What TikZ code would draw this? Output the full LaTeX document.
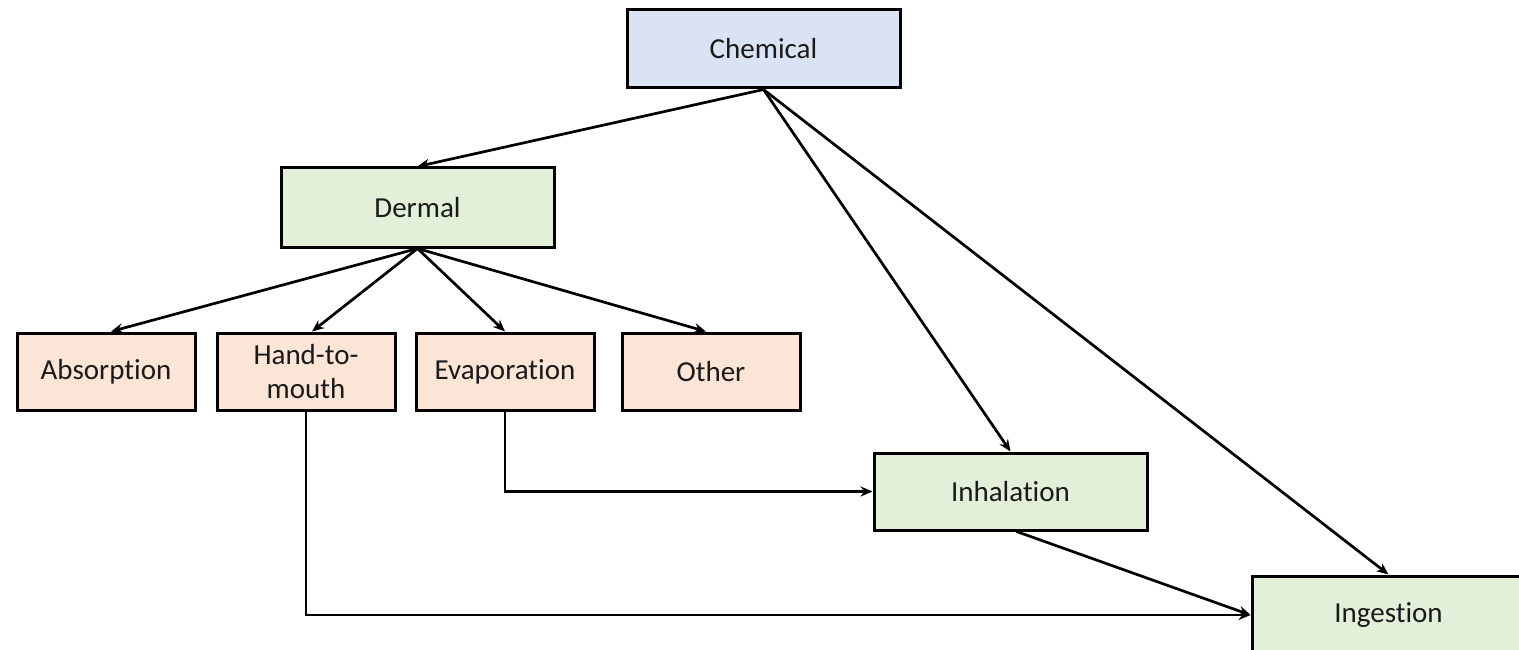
\documentclass[tikz,border=0pt]{standalone}
\usepackage{fontspec}
\setmainfont{Carlito}[Ligatures=NoCommon]
\usetikzlibrary{arrows.meta,calc}
\definecolor{cblue}{HTML}{DAE3F3}
\definecolor{cgreen}{HTML}{E2F0D9}
\definecolor{cpeach}{HTML}{FBE5D6}
\definecolor{ctext}{HTML}{1A1A1A}
\tikzset{
  box/.style={draw=black, line width=3pt, rectangle, minimum height=78pt,
    inner sep=0pt, align=center, text=ctext, font=\fontsize{29}{34}\selectfont},
  bigbox/.style={box, minimum width=273pt},
  smallbox/.style={box, minimum width=178pt, minimum height=77pt, fill=cpeach},
  conn/.style={line width=2.7pt, -{Stealth[length=12pt,width=10pt]}},
}
\begin{document}
\begin{tikzpicture}[x=1pt,y=-1pt]
\useasboundingbox (0,0) rectangle (1519,650);
\clip (0,0) rectangle (1519,650);
\fill[white] (0,0) rectangle (1519,650);
\node[bigbox, fill=cblue] (chem) at (763.5,49) {Chemical};
\node[bigbox, fill=cgreen, minimum height=79pt] (derm) at (417.5,207.5) {Dermal};
\node[smallbox] (abs) at (106,371.5) {Absorption};
\node[smallbox] (hand) at (306,371.5) {Hand-to-\\mouth};
\node[smallbox] (evap) at (505,371.5) {Evaporation};
\node[smallbox] (oth) at (711,371.5) {Other};
\node[bigbox, fill=cgreen, minimum height=77pt] (inh) at (1010.5,491.5) {Inhalation};
\node[bigbox, fill=cgreen] (ing) at (1388.5,615) {Ingestion};
\draw[conn] (chem.south) -- (derm.north);
\draw[conn] (chem.south) -- (inh.north);
\draw[conn] (chem.south) -- (ing.north);
\draw[conn] (derm.south) -- ($(abs.north)+(5,0)$);
\draw[conn] (derm.south) -- ($(hand.north)+(6,0)$);
\draw[conn] (derm.south) -- (evap.north);
\draw[conn] (derm.south) -- ($(oth.north)+(-5,0)$);
\draw[conn] (evap.south) |- (inh.west);
\draw[conn] (hand.south) |- (ing.west);
\draw[conn] ($(inh.south)+(6,0)$) -- (ing.west);
\end{tikzpicture}
\end{document}
